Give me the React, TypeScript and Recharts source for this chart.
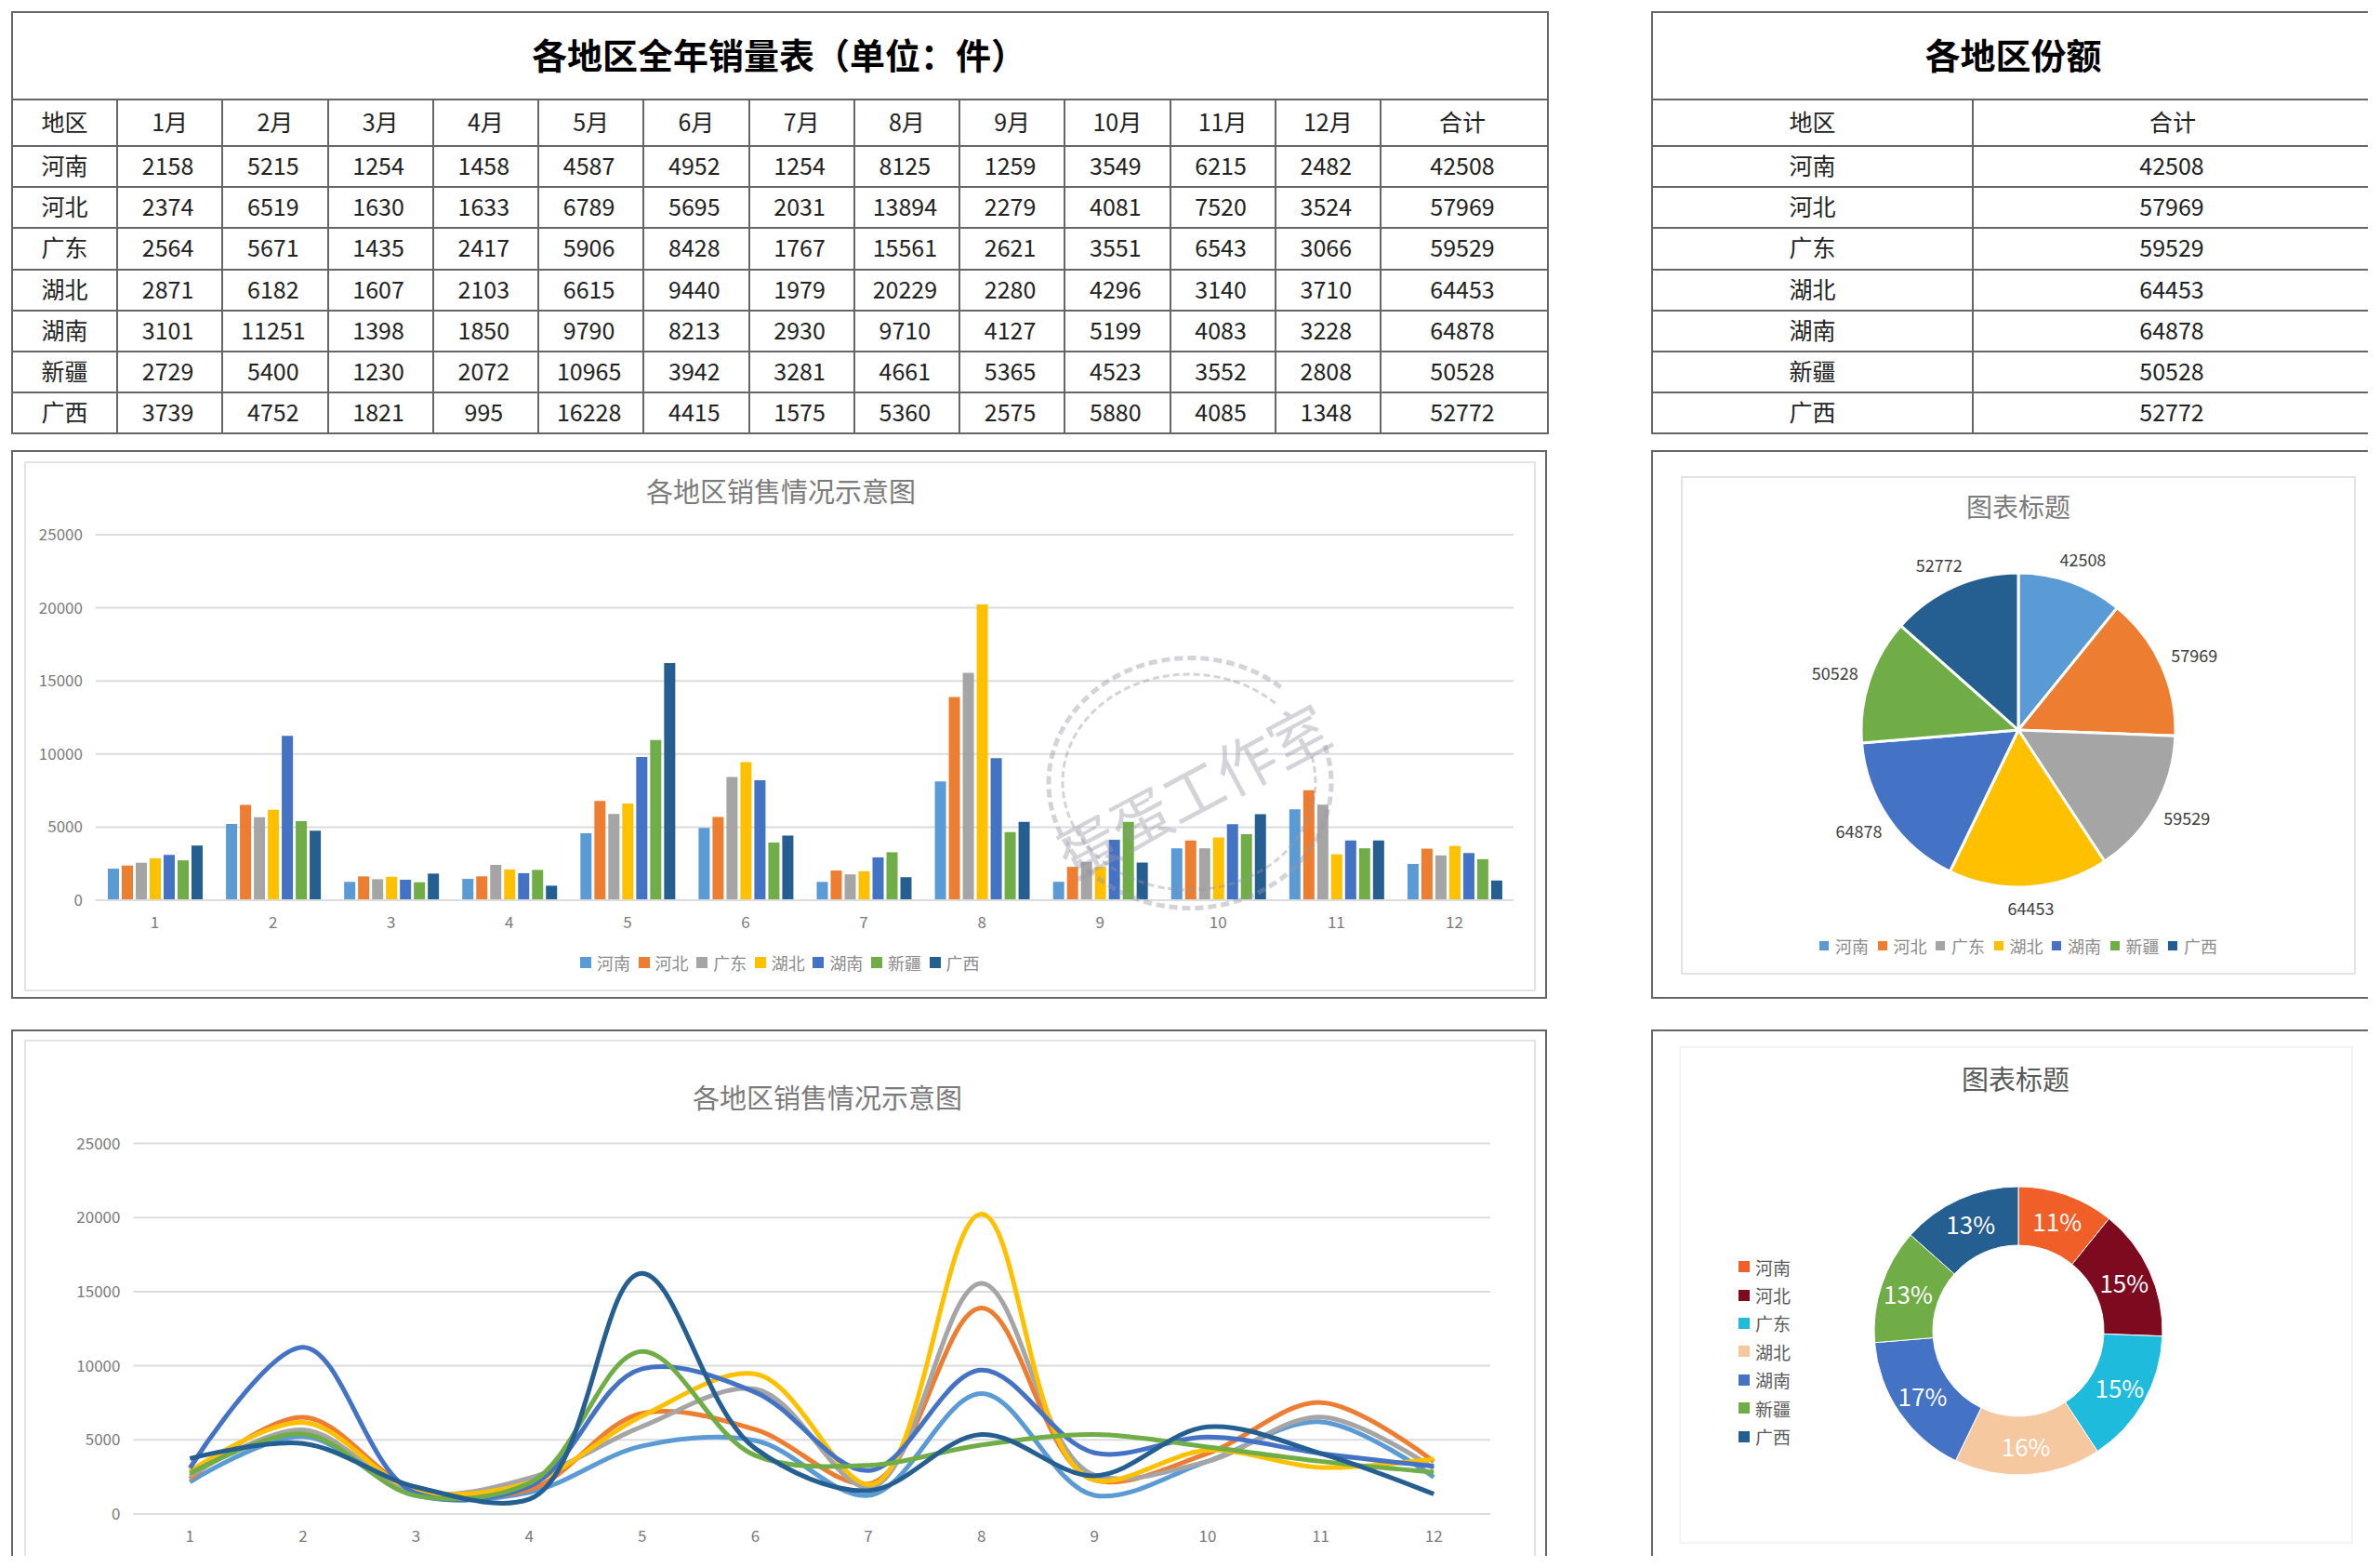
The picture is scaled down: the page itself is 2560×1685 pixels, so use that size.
import React from 'react';
import { BarChart, Bar, LineChart, Line, PieChart, Pie, Cell, XAxis, YAxis, CartesianGrid, Legend } from 'recharts';

const regions = ['河南', '河北', '广东', '湖北', '湖南', '新疆', '广西'];
const monthHeaders = ['1月', '2月', '3月', '4月', '5月', '6月', '7月', '8月', '9月', '10月', '11月', '12月'];
const months = ['1', '2', '3', '4', '5', '6', '7', '8', '9', '10', '11', '12'];
const henan = [2158, 5215, 1254, 1458, 4587, 4952, 1254, 8125, 1259, 3549, 6215, 2482];
const hebei = [2374, 6519, 1630, 1633, 6789, 5695, 2031, 13894, 2279, 4081, 7520, 3524];
const guangdong = [2564, 5671, 1435, 2417, 5906, 8428, 1767, 15561, 2621, 3551, 6543, 3066];
const hubei = [2871, 6182, 1607, 2103, 6615, 9440, 1979, 20229, 2280, 4296, 3140, 3710];
const hunan = [3101, 11251, 1398, 1850, 9790, 8213, 2930, 9710, 4127, 5199, 4083, 3228];
const xinjiang = [2729, 5400, 1230, 2072, 10965, 3942, 3281, 4661, 5365, 4523, 3552, 2808];
const guangxi = [3739, 4752, 1821, 995, 16228, 4415, 1575, 5360, 2575, 5880, 4085, 1348];
const seriesValues = [henan, hebei, guangdong, hubei, hunan, xinjiang, guangxi];
const totals = [42508, 57969, 59529, 64453, 64878, 50528, 52772];
const yTicks = [0, 5000, 10000, 15000, 20000, 25000];
const colors = ['#5B9BD5', '#ED7D31', '#A5A5A5', '#FFC000', '#4472C4', '#70AD47', '#255E91'];
const donutColors = ['#F15F28', '#7E0A1F', '#1FBBDD', '#F5C8A0', '#4472C4', '#70AD47', '#255E91'];

const monthRows = months.map((m, i) => {
  const row: any = { month: m };
  regions.forEach((r, k) => { row[r] = seriesValues[k][i]; });
  return row;
});
const totalRows = regions.map((name, i) => ({ name, value: totals[i] }));

const FONT = '"Noto Sans CJK SC", "Noto Sans", sans-serif';
const LINE = '2px solid #666';

// Excel-style smoothing: a chord-weighted Catmull-Rom spline, drawn as cubic Bezier pieces.
const ALPHA = 0.8;
function excelCurve(context: any) {
  let pts: number[][] = [];
  const dist = (a: number[], b: number[]) => Math.hypot(a[0] - b[0], a[1] - b[1]);
  return {
    areaStart() {},
    areaEnd() {},
    lineStart() { pts = []; },
    point(x: number, y: number) { pts.push([+x, +y]); },
    lineEnd() {
      pts.forEach((p2, i) => {
        if (i === 0) { context.moveTo(p2[0], p2[1]); return; }
        const p1 = pts[i - 1];
        const p0 = pts[i - 2];
        const p3 = pts[i + 1];
        const l12a = Math.pow(dist(p1, p2), ALPHA);
        const l12 = l12a * l12a;
        let c1 = p1;
        if (p0) {
          const la = Math.pow(dist(p0, p1), ALPHA);
          const l2 = la * la;
          const a = 2 * l2 + 3 * la * l12a + l12;
          const n = 3 * la * (la + l12a);
          c1 = [0, 1].map((k) => (p1[k] * a - p0[k] * l12 + p2[k] * l2) / n);
        }
        let c2 = p2;
        if (p3) {
          const la = Math.pow(dist(p2, p3), ALPHA);
          const l2 = la * la;
          const b = 2 * l2 + 3 * la * l12a + l12;
          const m = 3 * la * (la + l12a);
          c2 = [0, 1].map((k) => (p2[k] * b + p1[k] * l2 - p3[k] * l12) / m);
        }
        context.bezierCurveTo(c1[0], c1[1], c2[0], c2[1], p2[0], p2[1]);
      });
    },
  };
}

const cell = (extra: any = {}) => ({
  border: LINE, padding: '0 0 4px 0', textAlign: 'center' as const, fontWeight: 400, color: '#222', fontSize: 25, ...extra,
});
const bodyCell = (extra: any = {}) => cell({ padding: '0 4px 4px 0', ...extra });

function SalesTable() {
  const colW = [113, ...months.map(() => 113.25), 180];
  return (
    <table style={{ position: 'absolute', left: 12, top: 12, width: 1651, borderCollapse: 'collapse', tableLayout: 'fixed', fontFamily: FONT }}>
      <colgroup>{colW.map((w, i) => <col key={i} style={{ width: w }} />)}</colgroup>
      <tbody>
        <tr style={{ height: 94 }}>
          <td colSpan={14} style={cell({ fontSize: 38, fontWeight: 700, color: '#000', padding: '0 2px 6px 0' })}>各地区全年销量表（单位：件）</td>
        </tr>
        <tr style={{ height: 50 }}>
          <td style={cell()}>地区</td>
          {monthHeaders.map((m) => <td key={m} style={cell()}>{m}</td>)}
          <td style={bodyCell()}>合计</td>
        </tr>
        {regions.map((r, i) => (
          <tr key={r} style={{ height: 44.2 }}>
            <td style={cell()}>{r}</td>
            {seriesValues[i].map((v, j) => <td key={j} style={bodyCell()}>{v}</td>)}
            <td style={bodyCell()}>{totals[i]}</td>
          </tr>
        ))}
      </tbody>
    </table>
  );
}

function ShareTable() {
  const noRight = { borderRight: 'none' };
  return (
    <table style={{ position: 'absolute', left: 1776, top: 12, width: 770, borderCollapse: 'collapse', tableLayout: 'fixed', fontFamily: FONT }}>
      <colgroup><col style={{ width: 345 }} /><col style={{ width: 425 }} /></colgroup>
      <tbody>
        <tr style={{ height: 94 }}>
          <td colSpan={2} style={cell({ fontSize: 38, fontWeight: 700, color: '#000', padding: '0 0 6px 6px', ...noRight })}>各地区份额</td>
        </tr>
        <tr style={{ height: 50 }}>
          <td style={cell()}>地区</td>
          <td style={cell({ padding: '0 0 4px 4px', ...noRight })}>合计</td>
        </tr>
        {regions.map((r, i) => (
          <tr key={r} style={{ height: 44.2 }}>
            <td style={cell()}>{r}</td>
            <td style={cell({ padding: '0 0 4px 2px', ...noRight })}>{totals[i]}</td>
          </tr>
        ))}
      </tbody>
    </table>
  );
}

function Frame({ x, y, w, h, color, width = 2, open = '' }: any) {
  const b = `${width}px solid ${color}`;
  return (
    <div style={{
      position: 'absolute', left: x, top: y, width: w, height: h, boxSizing: 'border-box',
      borderTop: b, borderLeft: b,
      borderRight: open.includes('r') ? 'none' : b,
      borderBottom: open.includes('b') ? 'none' : b,
    }} />
  );
}

const rowLegend = (swatch: number, pitch: number, fontSize: number, gap: number, color: string) => ({ payload }: any) => (
  <div style={{ display: 'flex', fontFamily: FONT, fontSize, color, lineHeight: `${fontSize + 6}px` }}>
    {(payload || []).map((p: any) => (
      <div key={p.value} style={{ width: pitch, display: 'flex', alignItems: 'center', flex: 'none' }}>
        <span style={{ width: swatch, height: swatch, background: p.color, marginRight: gap, flex: 'none' }} />
        <span>{p.value}</span>
      </div>
    ))}
  </div>
);

const columnLegend = ({ payload }: any) => (
  <div style={{ fontFamily: FONT, fontSize: 19, color: '#595959' }}>
    {(payload || []).map((p: any) => (
      <div key={p.value} style={{ height: 30.4, display: 'flex', alignItems: 'center' }}>
        <span style={{ width: 12, height: 12, background: p.color, marginRight: 6 }} />
        <span>{p.value}</span>
      </div>
    ))}
  </div>
);

const tickStyle = { fill: '#7a7a7a', fontSize: 17, fontFamily: FONT };

function SalesBars() {
  return (
    <div style={{ position: 'absolute', left: 26, top: 496 }}>
      <BarChart width={1626} height={570} data={monthRows} barSize={12} barGap={3} barCategoryGap={12}
        margin={{ top: 79, right: 24, left: 0, bottom: 68 }}>
        <text x={814} y={31} textAnchor="middle" dominantBaseline="central" fontSize={29} fill="#7b7b7b" fontFamily={FONT}>各地区销售情况示意图</text>
        <CartesianGrid vertical={false} stroke="#dcdce0" strokeWidth={2} />
        <XAxis dataKey="month" height={30} tickLine={false} axisLine={{ stroke: '#dcdce0', strokeWidth: 2 }} tick={tickStyle} interval={0} tickMargin={12} />
        <YAxis width={77} domain={[0, 25000]} ticks={yTicks} tickLine={false} axisLine={false} tick={tickStyle} tickMargin={8} interval={0} />
        {regions.map((r, i) => <Bar key={r} dataKey={r} fill={colors[i]} isAnimationActive={false} />)}
        <Legend layout="horizontal" align="center" verticalAlign="middle" itemSorter={null}
          content={rowLegend(12, 62.6, 18, 6, '#8a8a8a')}
          wrapperStyle={{ left: 598, top: 527, width: 'auto', height: 'auto', margin: 0 }} />
      </BarChart>
    </div>
  );
}

function SalesLines() {
  return (
    <div style={{ position: 'absolute', left: 26, top: 1118 }}>
      <LineChart width={1626} height={555} data={monthRows}
        margin={{ top: 111.5, right: 49, left: 0, bottom: 15 }}>
        <text x={864} y={61} textAnchor="middle" dominantBaseline="central" fontSize={29} fill="#7b7b7b" fontFamily={FONT}>各地区销售情况示意图</text>
        <CartesianGrid vertical={false} stroke="#dcdce0" strokeWidth={2} />
        <XAxis dataKey="month" height={30} padding={{ left: 60.8, right: 60.8 }} tickLine={false} axisLine={{ stroke: '#dcdce0', strokeWidth: 2 }} tick={tickStyle} interval={0} tickMargin={12} />
        <YAxis width={117.5} domain={[0, 25000]} ticks={yTicks} tickLine={false} axisLine={false} tick={tickStyle} tickMargin={8} interval={0} />
        {regions.map((r, i) => (
          <Line key={r} dataKey={r} type={excelCurve as any} stroke={colors[i]} strokeWidth={5} dot={false} isAnimationActive={false} />
        ))}
      </LineChart>
    </div>
  );
}

const RAD = Math.PI / 180;

const valueLabel = (p: any) => {
  const s = Math.sin(p.midAngle * RAD);
  const x = p.cx + 208 * Math.cos(p.midAngle * RAD);
  const y = p.cy - (s > 0 ? 195 : 191) * s;
  return <text x={x} y={y} textAnchor="middle" dominantBaseline="central" fontSize={18} fill="#404040" fontFamily={FONT}>{p.value}</text>;
};

const percentLabel = (p: any) => {
  const r = 125;
  const x = p.cx + r * Math.cos(p.midAngle * RAD);
  const y = p.cy - r * Math.sin(p.midAngle * RAD);
  return <text x={x} y={y - 1} textAnchor="middle" dominantBaseline="central" fontSize={26} fill="#fff" fontFamily={FONT}>{`${Math.round(p.percent * 100)}%`}</text>;
};

function SharePie() {
  return (
    <div style={{ position: 'absolute', left: 1808, top: 512 }}>
      <PieChart width={726} height={536} margin={{ top: 0, right: 0, bottom: 0, left: 0 }}>
        <text x={363} y={32} textAnchor="middle" dominantBaseline="central" fontSize={28} fill="#7b7b7b" fontFamily={FONT}>图表标题</text>
        <Pie data={totalRows} dataKey="value" nameKey="name" cx={363} cy={273} outerRadius={169} startAngle={90} endAngle={-270}
          stroke="#fff" strokeWidth={3} label={valueLabel} labelLine={false} isAnimationActive={false}>
          {totalRows.map((d, i) => <Cell key={d.name} fill={colors[i]} />)}
        </Pie>
        <Legend layout="horizontal" align="center" verticalAlign="middle" itemSorter={null}
          content={rowLegend(10, 62.5, 18, 7, '#8a8a8a')}
          wrapperStyle={{ left: 149, top: 493, width: 'auto', height: 'auto', margin: 0 }} />
      </PieChart>
    </div>
  );
}

function ShareDonut() {
  return (
    <div style={{ position: 'absolute', left: 1806, top: 1125 }}>
      <PieChart width={725} height={535} margin={{ top: 0, right: 0, bottom: 0, left: 0 }}>
        <text x={362} y={34} textAnchor="middle" dominantBaseline="central" fontSize={29} fill="#595959" fontFamily={FONT}>图表标题</text>
        <Pie data={totalRows} dataKey="value" nameKey="name" cx={365} cy={306} innerRadius={92} outerRadius={155} startAngle={90} endAngle={-270}
          stroke="#fff" strokeWidth={1} label={percentLabel} labelLine={false} isAnimationActive={false}>
          {totalRows.map((d, i) => <Cell key={d.name} fill={donutColors[i]} />)}
        </Pie>
        <Legend layout="horizontal" align="center" verticalAlign="middle" content={columnLegend} itemSorter={null}
          wrapperStyle={{ left: 64, top: 222, width: 'auto', height: 'auto', margin: 0 }} />
      </PieChart>
    </div>
  );
}

function arcPath(cx: number, cy: number, rx: number, ry: number, fromDeg: number, toDeg: number) {
  const x1 = cx + rx * Math.cos(fromDeg * RAD);
  const y1 = cy + ry * Math.sin(fromDeg * RAD);
  const x2 = cx + rx * Math.cos(toDeg * RAD);
  const y2 = cy + ry * Math.sin(toDeg * RAD);
  return `M${x1} ${y1}A${rx} ${ry} 0 1 0 ${x2} ${y2}`;
}

function Stamp() {
  const c = 'rgba(150,150,165,0.42)';
  return (
    <svg width={2560} height={1685} style={{ position: 'absolute', left: 0, top: 0, pointerEvents: 'none' }}>
      <path d={arcPath(1280, 842, 152, 134.5, -50, -18)} fill="none" stroke={c} strokeWidth={5} strokeDasharray="9 5" />
      <path d={arcPath(1279, 841, 136, 116, -47, -16)} fill="none" stroke={c} strokeWidth={3} strokeDasharray="7 4" />
      <text x={1282} y={848} textAnchor="middle" dominantBaseline="central" fontSize={64} letterSpacing={0} fill={c} fontFamily={FONT}
        transform="rotate(-28 1282 848)">蛋蛋工作室</text>
    </svg>
  );
}

export default function App() {
  return (
    <div style={{ position: 'absolute', left: 0, top: 0, width: 2560, height: 1685, overflow: 'hidden', background: '#fff' }}>
      <SalesTable />
      <ShareTable />

      <Frame x={12} y={484} w={1652} h={590} color="#666" />
      <Frame x={26} y={496} w={1626} h={570} color="#e2e2e8" />
      <SalesBars />

      <Frame x={1776} y={484} w={771} h={590} color="#666" open="r" />
      <Frame x={1808} y={512} w={726} h={536} color="#e2e2e8" />
      <SharePie />

      <Frame x={12} y={1107} w={1652} h={566} color="#666" open="b" />
      <Frame x={26} y={1118} w={1626} h={555} color="#e2e2e8" open="b" />
      <SalesLines />

      <Frame x={1776} y={1107} w={771} h={566} color="#666" open="rb" />
      <Frame x={1806} y={1125} w={725} h={535} color="#f3f3f6" />
      <ShareDonut />

      <Stamp />
    </div>
  );
}
